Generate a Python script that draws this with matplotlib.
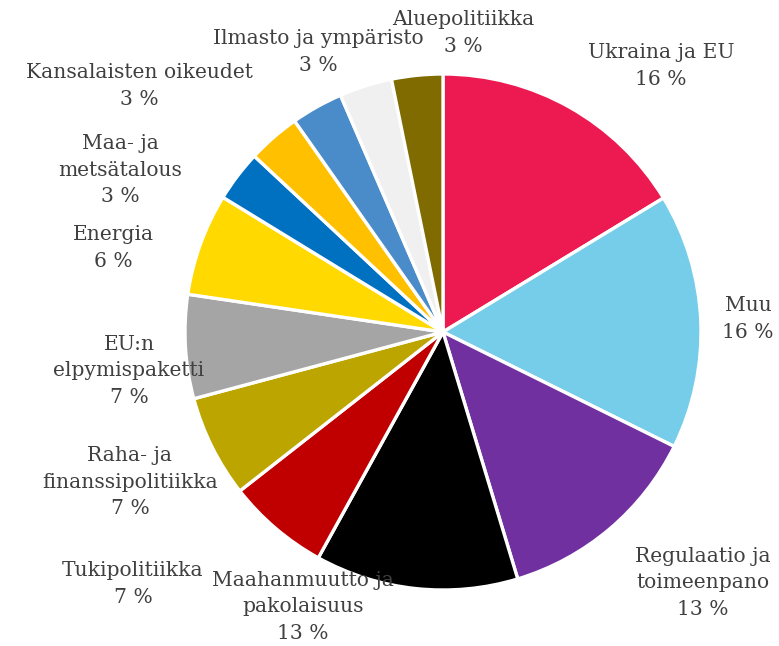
import matplotlib
matplotlib.use("Agg")
import matplotlib.pyplot as plt

# aiheet myötäpäivään klo 12:sta alkaen
aiheet = ["Ukraina ja EU", "Muu", "Regulaatio ja\ntoimeenpano",
          "Maahanmuutto ja\npakolaisuus", "Tukipolitiikka",
          "Raha- ja\nfinanssipolitiikka", "EU:n\nelpymispaketti", "Energia",
          "Maa- ja\nmetsätalous", "", "Kansalaisten oikeudet",
          "Ilmasto ja ympäristo", "Aluepolitiikka"]
osuus = [16.3, 16.0, 13.0, 12.7, 6.4, 6.4, 6.5, 6.4, 3.2, 3.3, 3.25, 3.3, 3.2]
osuus_teksti = [16, 16, 13, 13, 7, 7, 7, 6, 3, 3, 3, 3, 3]

VARIT = ["#EC1A50", "#75CDE9", "#7030A0", "#000000", "#C00000", "#BDA500",
         "#A5A5A5", "#FFD900", "#0070C0", "#FFC000", "#4A8BC9", "#F0F0F0",
         "#7F6B00"]

# tekstien keskipisteet kuvapikseleinä (x, y ylhäältä)
PAIKKA = [(661, 66), (748, 319), (703, 583), (303, 607), (133, 584),
          (130, 482), (129, 371), (113, 248), (120, 170), None, (139, 86),
          (318, 52), (463, 33)]

W, H = 779, 646
fig = plt.figure(figsize=(W / 100, H / 100), dpi=100)
ax = fig.add_axes([0, 0, 1, 1])

ax.pie(osuus, colors=VARIT, startangle=90, counterclock=False,
       center=(443, H - 332), radius=258, frame=True,
       wedgeprops=dict(edgecolor="white", linewidth=2.4))
ax.set_xlim(0, W)
ax.set_ylim(0, H)
ax.set_aspect("equal")
ax.axis("off")

for nimi, pros, p in zip(aiheet, osuus_teksti, PAIKKA):
    if p is None:
        continue
    ax.text(p[0], H - p[1], f"{nimi}\n{pros} %", ha="center", va="center",
            family="DejaVu Serif", fontsize=14.6, color="#404040",
            linespacing=1.5, zorder=5)

fig.savefig("out.png", dpi=100)
